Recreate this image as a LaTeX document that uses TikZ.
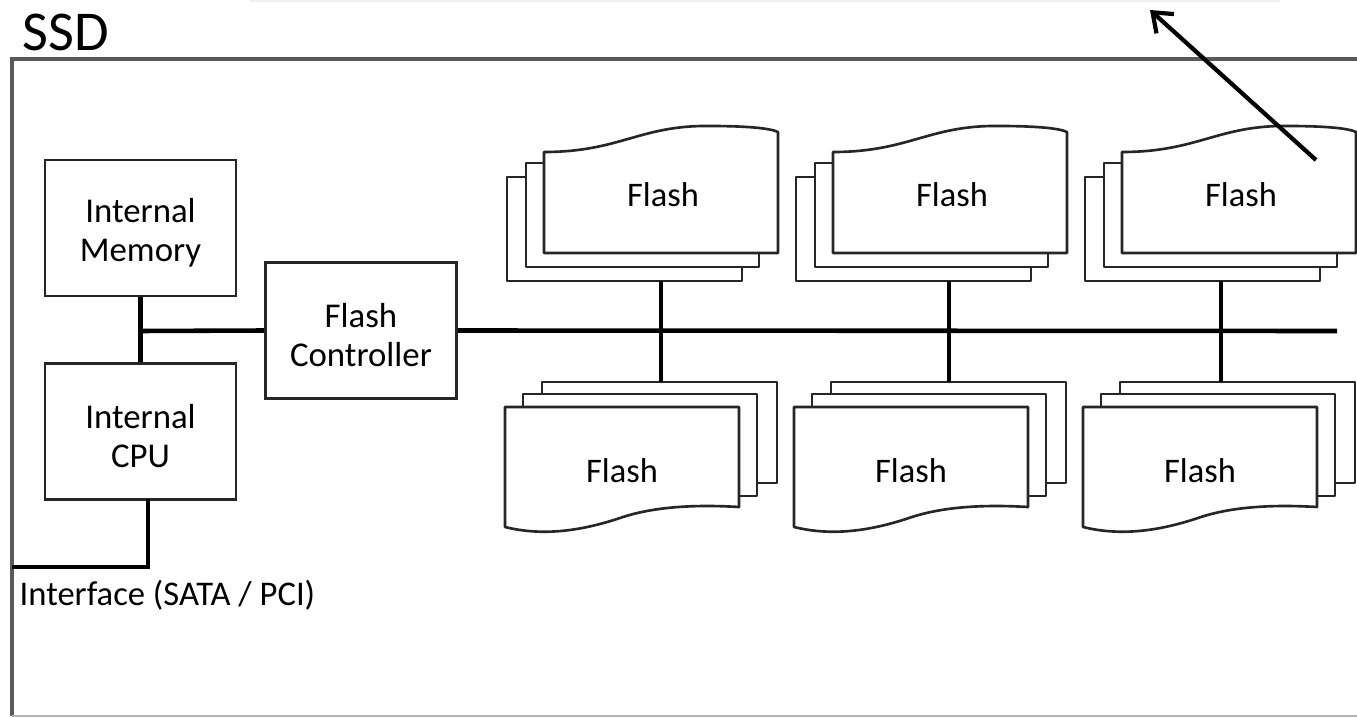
\documentclass[tikz,border=0pt]{standalone}
\usepackage{fontspec}
\setmainfont{Carlito}
\usepackage{tikz}
\usetikzlibrary{arrows.meta}
\definecolor{framegray}{HTML}{5A5A5A}
\tikzset{
  unitbox/.style={draw=black!85,line width=0.75pt,fill=white,align=center,
    minimum width=19.1mm,minimum height=13.6mm,inner sep=1pt,text height=20.8pt,
    font=\fontsize{9.9}{11.1}\selectfont},
  sheet/.style={draw=black!85,line width=0.75pt,fill=white,line join=round},
  sheettext/.style={inner sep=0pt,font=\fontsize{9.8}{11}\selectfont},
  busline/.style={line width=1.3pt,black},
  ssdframe/.style={framegray,line width=0.9pt},
  pointer/.style={-{Straight Barb[length=1.7mm,width=2.6mm,line width=1.2pt]},line width=1.2pt,black},
}

\begin{document}
\begin{tikzpicture}[x=0.1mm,y=-0.1mm]
  \useasboundingbox (0,0) rectangle (1357,718);
  % frame of the drive
  \draw[black!6,line width=0.6pt] (250,1) -- (1280,1);
  \draw[ssdframe] (1357,59) -- (12,59) -- (12,716);
  \draw[black!30,line width=0.5pt] (12,716) -- (1357,716);
  \node[anchor=west,inner sep=0pt,font=\fontsize{16}{17}\selectfont] (ssdlabel) at (22,32) {SSD};

  % controller side
  \node[unitbox] (mem) at (140.5,228) {Internal\\Memory};
  \node[unitbox] (cpu) at (140.5,431.5) {Internal\\CPU};
  \node[unitbox] (ctrl) at (361,330.5) {Flash\\Controller};
  \coordinate (jn) at (140.5,331);
  \coordinate (busend) at (1337,331);
  \draw[busline] (mem.south) -- (cpu.north);
  \draw[busline] (jn) -- (ctrl.west);
  \draw[busline] (ctrl.east) -- (busend);

  % host interface
  \coordinate (cpuout) at (148,499);
  \coordinate (ifend) at (12,567);
  \draw[busline] (cpuout) |- (ifend);
  \node[anchor=west,inner sep=0pt,font=\fontsize{9.85}{11}\selectfont] (iflabel) at (19,595) {Interface (SATA / PCI)};

  % flash packages, three columns
  \foreach \k/\dx/\cx in {1/0/661,2/289/949,3/578/1221}{
    \begin{scope}[xshift=\dx*0.1mm]
      % upper stack
      \draw[sheet] (507,177) rectangle (742,281);
      \draw[sheet] (526,163) rectangle (759,267);
      \draw[sheet] (544,253) -- (544,152)
        .. controls (620,152) and (640,125) .. (710,126)
        .. controls (745,126) and (770,128) .. (778,132) -- (778,253) -- cycle;
      \node[sheettext] (ftop\k) at (663,195) {Flash};
      % lower stack
      \draw[sheet] (542,382) rectangle (777,483);
      \draw[sheet] (523,394) rectangle (757,496);
      \draw[sheet] (505,407) -- (739,407) -- (739,507)
        .. controls (705,505) and (660,505) .. (623,517)
        .. controls (585,530) and (545,537) .. (505,527) -- cycle;
      \node[sheettext] (fbot\k) at (622,471) {Flash};
    \end{scope}
    \coordinate (tj\k) at (\cx,281);
    \coordinate (bj\k) at (\cx,382);
    \draw[busline] (tj\k) -- (bj\k);
  }

  % pointer out of the frame
  \coordinate (arrfrom) at (1316,160);
  \coordinate (arrto) at (1150,10);
  \draw[pointer] (arrfrom) -- (arrto);
\end{tikzpicture}
\end{document}
